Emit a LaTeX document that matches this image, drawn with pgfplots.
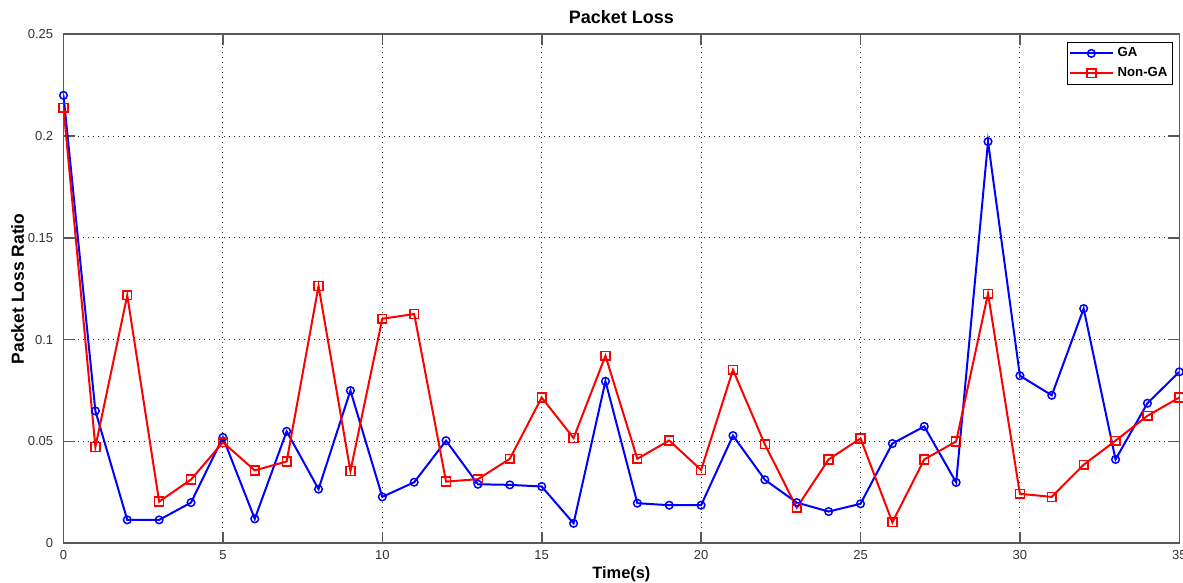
\documentclass[border=0pt]{standalone}
\usepackage{fontspec}
\setmainfont{Liberation Sans}
\usepackage{pgfplots}
\pgfplotsset{compat=1.18}
\usepackage{pgfplotstable}

\pgfplotstableread{
x y
0 0.2200
1 0.0650
2 0.0115
3 0.0115
4 0.0200
5 0.0520
6 0.0120
7 0.0550
8 0.0266
9 0.0750
10 0.0228
11 0.0300
12 0.0504
13 0.0290
14 0.0287
15 0.0279
16 0.0098
17 0.0796
18 0.0197
19 0.0187
20 0.0187
21 0.0529
22 0.0312
23 0.0200
24 0.0156
25 0.0194
26 0.0490
27 0.0574
28 0.0299
29 0.1973
30 0.0823
31 0.0727
32 0.1153
33 0.0412
34 0.0688
35 0.0842
}\gadata

\pgfplotstableread{
x y
0 0.2139
1 0.0473
2 0.1218
3 0.0205
4 0.0313
5 0.0496
6 0.0358
7 0.0402
8 0.1264
9 0.0355
10 0.1103
11 0.1126
12 0.0303
13 0.0315
14 0.0415
15 0.0716
16 0.0517
17 0.0921
18 0.0415
19 0.0505
20 0.0360
21 0.0852
22 0.0486
23 0.0175
24 0.0412
25 0.0515
26 0.0103
27 0.0412
28 0.0500
29 0.1226
30 0.0243
31 0.0228
32 0.0386
33 0.0504
34 0.0626
35 0.0716
}\ngadata

\begin{document}
\begin{tikzpicture}
\path[use as bounding box] (-31.75pt,-19.85pt) rectangle (559.75pt,271.65pt);
\begin{axis}[
  scale only axis,
  width=557.9pt, height=254.5pt,
  xmin=0, xmax=35, ymin=0, ymax=0.25,
  xtick={0,5,...,35},
  ytick={0,0.05,0.1,0.15,0.2,0.25},
  yticklabels={0,0.05,0.1,0.15,0.2,0.25},
  grid=major,
  major grid style={black!85, line width=0.5pt, dash pattern=on 0.5pt off 2pt},
  axis line style={black!65, line width=0.8pt},
  tick align=inside,
  major tick length=5.5pt,
  tick style={black!65, line width=0.8pt},
  /pgf/number format/assume math mode=true,
  ticklabel style={font=\fontsize{6.5}{7}\selectfont, text=black!80, inner sep=0pt},
  xticklabel style={anchor=north, yshift=-3.5pt},
  yticklabel style={anchor=east, xshift=-5pt},
  every axis title shift=0pt,
  title={Packet Loss},
  title style={font=\fontsize{9}{10}\selectfont\bfseries, at={(axis description cs:0.5,1)}, anchor=base, yshift=5.5pt},
  xlabel={Time(s)},
  xlabel style={font=\fontsize{8.2}{9}\selectfont\bfseries, at={(axis description cs:0.5,0)}, anchor=base, yshift=-17.4pt},
  ylabel={Packet Loss Ratio},
  ylabel style={font=\fontsize{8.75}{9}\selectfont\bfseries, at={([xshift=-23pt]axis description cs:0,0.5)}, anchor=center},
  legend style={at={(axis description cs:1,1)}, anchor=north east, xshift=-3.2pt, yshift=-3.8pt,
    draw=black, line width=0.6pt, font=\fontsize{6.6}{7}\selectfont\bfseries, inner sep=0.5pt,
    nodes={inner sep=1.9pt}, cells={anchor=west}},
  legend image code/.code={
    \draw[#1, mark=none] (0pt,0pt) -- (21.5pt,0pt);
    \draw[#1] plot coordinates {(10.75pt,0pt)};
  },
]
\addplot[blue, line width=1pt, mark=o, mark size=1.9pt, mark options={line width=0.75pt}] table[x=x,y=y]{\gadata};
\addlegendentry{GA}
\addplot[red, line width=1pt, mark=square, mark size=2.2pt, mark options={line width=0.75pt}] table[x=x,y=y]{\ngadata};
\addlegendentry{Non-GA}
\end{axis}
\end{tikzpicture}
\end{document}
